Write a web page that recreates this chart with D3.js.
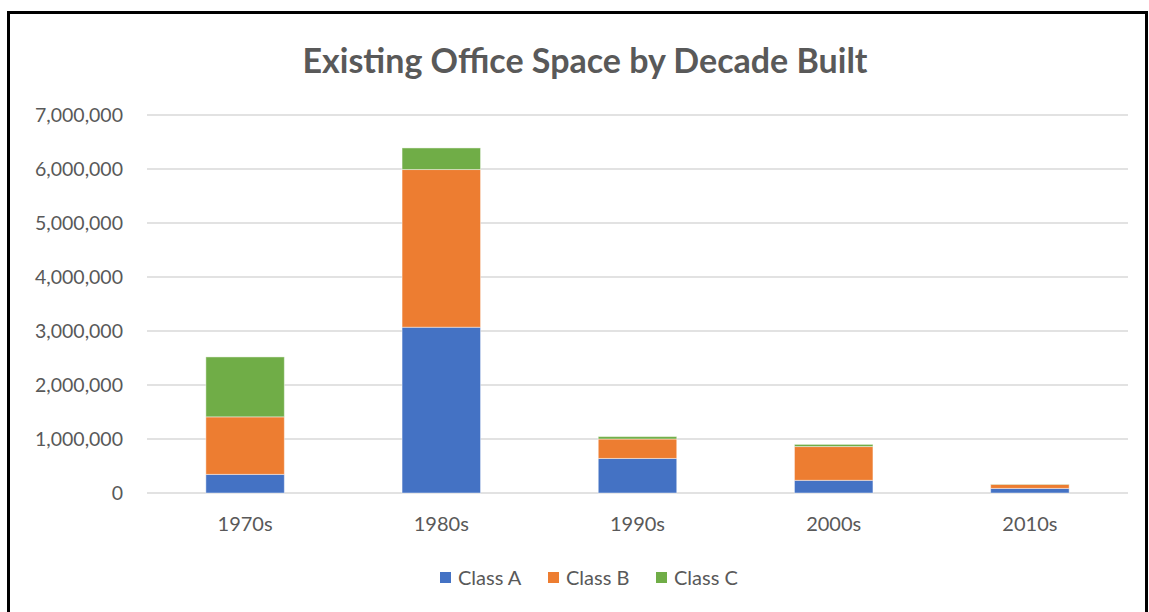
<!DOCTYPE html>
<html>
<head>
<meta charset="utf-8">
<script src="https://cdn.jsdelivr.net/npm/d3@7"></script>
<style>
  body { margin: 0; background: #fff; }
  text { font-family: Lato, "Open Sans", sans-serif; fill: #595959; }
</style>
</head>
<body>
<div id="chart"></div>
<script>
// data
var decades = ["1970s", "1980s", "1990s", "2000s", "2010s"];
var classA = [345000, 3070000, 640000, 235000, 85000];
var classB = [1065000, 2920000, 360000, 625000, 75000];
var classC = [1110000, 400000, 45000, 40000, 5000];
var seriesNames = ["Class A", "Class B", "Class C"];
var colors = ["#4472c4", "#ed7d31", "#70ad47"];
var yTicks = [0, 1000000, 2000000, 3000000, 4000000, 5000000, 6000000, 7000000];

var W = 1149, H = 612;
var margin = {top: 115, right: 21, bottom: 119, left: 147};
var width = W - margin.left - margin.right,
    height = H - margin.top - margin.bottom;

var svg = d3.select("#chart").append("svg")
  .attr("width", W)
  .attr("height", H);

// outer frame
svg.append("rect")
  .attr("x", 8.5).attr("y", 12.5)
  .attr("width", 1138).attr("height", 610)
  .attr("fill", "none")
  .attr("stroke", "#000")
  .attr("stroke-width", 3);

svg.append("text")
  .attr("x", 585).attr("y", 73)
  .attr("text-anchor", "middle")
  .style("font-size", "34px")
  .style("font-weight", "bold")
  .text("Existing Office Space by Decade Built");

var g = svg.append("g")
  .attr("transform", "translate(" + margin.left + "," + margin.top + ")");

var x = d3.scaleBand()
  .domain(decades)
  .range([0, width])
  .paddingInner(0.6)
  .paddingOuter(0.3);

var y = d3.scaleLinear()
  .domain([0, 7000000])
  .range([height, 0]);

// gridlines
g.selectAll(".grid")
  .data(yTicks)
  .enter().append("line")
    .attr("x1", 0).attr("x2", width)
    .attr("y1", function(d) { return y(d); })
    .attr("y2", function(d) { return y(d); })
    .attr("stroke", "#d9d9d9")
    .attr("stroke-width", 1.5);

// y axis labels
var yAxis = g.append("g")
  .call(d3.axisLeft(y).tickValues(yTicks).tickSize(0).tickPadding(24).tickFormat(d3.format(",")));
yAxis.select(".domain").remove();
yAxis.selectAll("text").style("font-size", "19.5px").style("font-family", "Lato, sans-serif").attr("fill", "#595959");

// x axis labels
var xAxis = g.append("g")
  .attr("transform", "translate(0," + height + ")")
  .call(d3.axisBottom(x).tickSize(0).tickPadding(24));
xAxis.select(".domain").remove();
xAxis.selectAll("text").style("font-size", "20px").style("font-family", "Lato, sans-serif").attr("fill", "#595959");

// stack the series
var rows = decades.map(function(d, i) {
  return {decade: d, "Class A": classA[i], "Class B": classB[i], "Class C": classC[i]};
});
var stacked = d3.stack().keys(seriesNames)(rows);

g.selectAll(".series")
  .data(stacked)
  .enter().append("g")
    .attr("fill", function(d, i) { return colors[i]; })
  .selectAll("rect")
  .data(function(d) { return d; })
  .enter().append("rect")
    .attr("x", function(d) { return x(d.data.decade); })
    .attr("y", function(d) { return y(d[1]); })
    .attr("width", x.bandwidth())
    .attr("height", function(d) { return y(d[0]) - y(d[1]); })
    .attr("stroke", "#fff")
    .attr("stroke-opacity", 0.45)
    .attr("stroke-width", 1);

// legend
var legendX = [440, 548, 656];
var legend = svg.append("g");
seriesNames.forEach(function(name, i) {
  legend.append("rect")
    .attr("x", legendX[i]).attr("y", 572)
    .attr("width", 11).attr("height", 11)
    .attr("fill", colors[i]);
  legend.append("text")
    .attr("x", legendX[i] + 18).attr("y", 585)
    .style("font-size", "20px")
    .text(name);
});
</script>
</body>
</html>
